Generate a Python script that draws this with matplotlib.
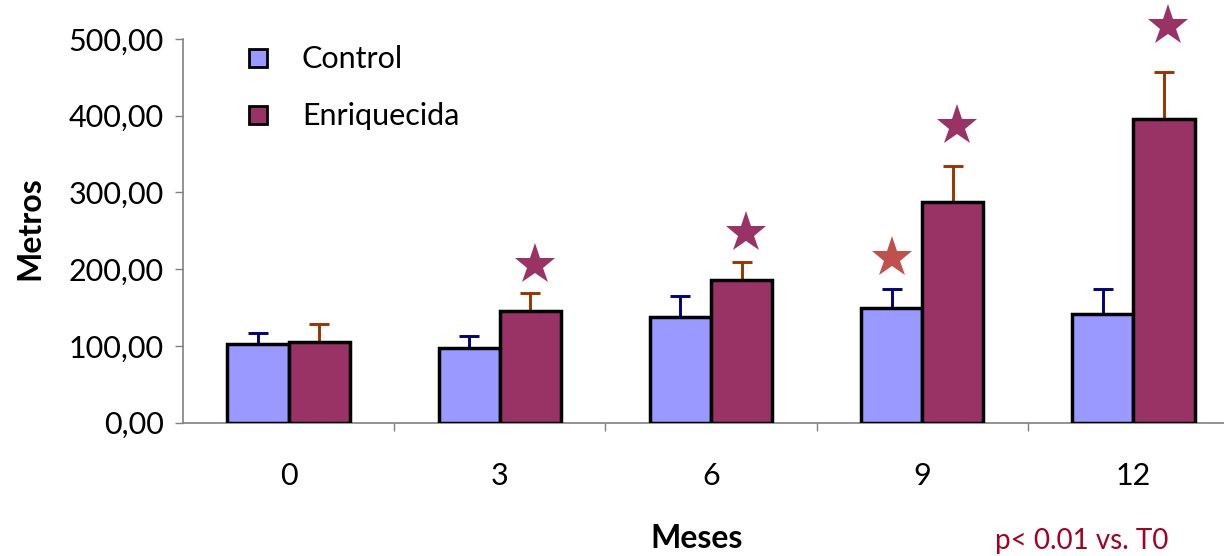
import matplotlib
matplotlib.use("Agg")
import matplotlib.pyplot as plt
from matplotlib.lines import Line2D
import numpy as np

plt.rcParams['font.family'] = ['Lato', 'DejaVu Sans']

# Data
meses = ["0", "3", "6", "9", "12"]
control = [102, 97, 138, 149, 142]
control_err = [15, 16, 27, 25, 32]
enriquecida = [105, 146, 186, 287, 396]
enriquecida_err = [24, 23, 23, 48, 61]
yticks = [0, 100, 200, 300, 400, 500]
ytick_labels = ["0,00", "100,00", "200,00", "300,00", "400,00", "500,00"]
# significance stars: (group index, height)
stars_enr = [(1, 205), (2, 247), (3, 387), (4, 517)]
stars_ctrl = [(3, 214)]

c_ctrl = "#9999FF"
c_enr = "#993366"
c_ctrl_err = "#000080"
c_enr_err = "#993300"
c_star_ctrl = "#C0504D"

W, H = 1224, 556
fig = plt.figure(figsize=(W / 100, H / 100), dpi=100)
ax = fig.add_axes([183 / W, (H - 422.7) / H, 1056 / W, 383.7 / H])

x = np.arange(len(meses))
bw = 0.29
xc = x - bw / 2
xe = x + bw / 2

ax.bar(xc, control, width=bw, color=c_ctrl, edgecolor="black", linewidth=2.5, zorder=3)
ax.bar(xe, enriquecida, width=bw, color=c_enr, edgecolor="black", linewidth=2.5, zorder=3)

zeros = np.zeros(len(meses))
ax.errorbar(xc, control, yerr=[zeros, control_err], fmt="none", ecolor=c_ctrl_err,
            elinewidth=2.1, capsize=7, capthick=2.1, zorder=2)
ax.errorbar(xe, enriquecida, yerr=[zeros, enriquecida_err], fmt="none", ecolor=c_enr_err,
            elinewidth=2.1, capsize=7, capthick=2.1, zorder=2)

for i, h in stars_enr:
    ax.plot(xe[i] + 0.02, h, marker="*", markersize=31, color=c_enr,
            markeredgewidth=0, clip_on=False, zorder=4)
for i, h in stars_ctrl:
    ax.plot(xc[i], h, marker="*", markersize=31, color=c_star_ctrl,
            markeredgewidth=0, clip_on=False, zorder=4)

ax.set_xlim(-0.5, len(meses) - 0.5)
ax.set_ylim(0, 500)

ax.set_yticks(yticks)
ax.set_yticklabels(ytick_labels, fontsize=22)
ax.set_xticks(x)
ax.set_xticklabels(meses, fontsize=22)
ax.set_xticks(np.arange(0.5, len(meses) - 0.5, 1), minor=True)
ax.tick_params(axis="x", which="major", length=0, pad=28)
ax.tick_params(axis="x", which="minor", length=6, width=1, color="#808080", direction="out")
ax.tick_params(axis="y", length=6, width=1, color="#808080", direction="out", pad=8)

for s in ["top", "right"]:
    ax.spines[s].set_visible(False)
for s in ["left", "bottom"]:
    ax.spines[s].set_color("#808080")
    ax.spines[s].set_linewidth(1.2)

fig.text(30 / W, 1 - 228 / H, "Metros", rotation=90, fontsize=23, fontweight="bold",
         ha="center", va="center")
fig.text(697 / W, 1 - 538 / H, "Meses", fontsize=23, fontweight="bold",
         ha="center", va="center")
fig.text(995 / W, 1 - 541 / H, "p< 0.01 vs. T0", fontsize=20, color="#A50021",
         ha="left", va="center")

handles = [
    Line2D([], [], linestyle="none", marker="s", markersize=13, markerfacecolor=c_ctrl,
           markeredgecolor="black", markeredgewidth=2),
    Line2D([], [], linestyle="none", marker="s", markersize=13, markerfacecolor=c_enr,
           markeredgecolor="black", markeredgewidth=2),
]
fig.legend(handles, ["Control", "Enriquecida"], loc="upper left",
           bbox_to_anchor=(227 / W, 1 - 30 / H), frameon=False, fontsize=22,
           handlelength=1.0, handletextpad=0.95, labelspacing=0.95, borderpad=0)

fig.savefig("out.png", dpi=100)
